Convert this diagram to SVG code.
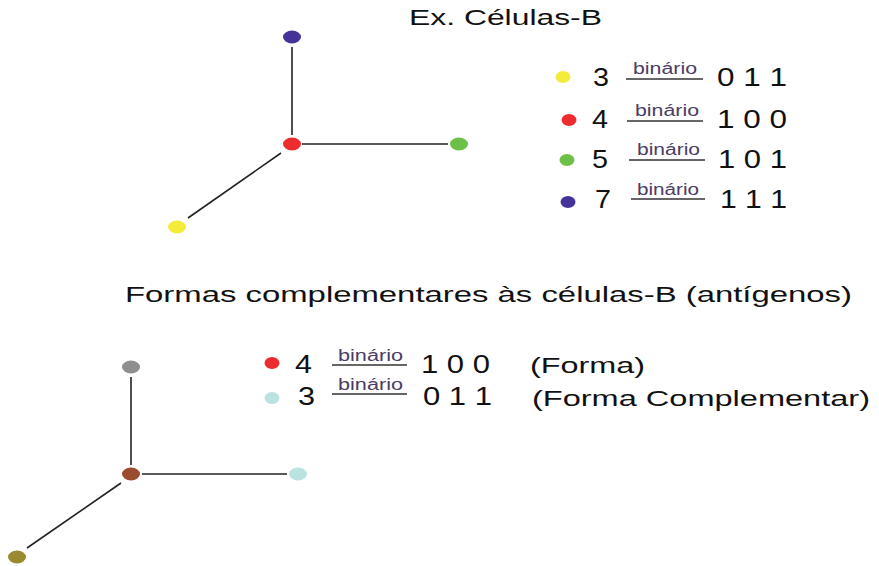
<svg xmlns="http://www.w3.org/2000/svg" width="879" height="566" viewBox="0 0 879 566">
<style>
.t{font-family:"Liberation Sans",Arial,sans-serif;fill:#111}
.h{font-size:22px}
.d{font-size:25px}
.b{font-size:16px;fill:#4a3d63}
.ln{stroke:#222;stroke-width:1.6;fill:none}
.bl{stroke:#333;stroke-width:1.3}
</style>
<rect width="879" height="566" fill="#fff"/>
<g id="connectors">
<line class="ln" x1="292" y1="47" x2="292" y2="135"/>
<line class="ln" x1="302" y1="144" x2="448" y2="144"/>
<line class="ln" x1="281" y1="153" x2="188" y2="218"/>
<line class="ln" x1="131" y1="377" x2="131" y2="465"/>
<line class="ln" x1="142" y1="474" x2="287" y2="474"/>
<line class="ln" x1="121" y1="483" x2="27" y2="548"/>
</g>
<g id="n-top-purple"><ellipse cx="292" cy="37" rx="9" ry="6.5" fill="#46339a"/></g>
<g id="n-top-red"><ellipse cx="292" cy="144" rx="9" ry="6.5" fill="#ee2b2f"/></g>
<g id="n-top-green"><ellipse cx="459" cy="144" rx="9" ry="6.5" fill="#6dbf47"/></g>
<g id="n-top-yellow"><ellipse cx="177" cy="227" rx="9" ry="6.5" fill="#f4ec3a"/></g>
<g id="n-bot-gray"><ellipse cx="131" cy="367" rx="9" ry="6.5" fill="#8f8f8f"/></g>
<g id="n-bot-brown"><ellipse cx="131" cy="474" rx="9" ry="6.5" fill="#9b4b30"/></g>
<g id="n-bot-cyan"><ellipse cx="298" cy="474" rx="9" ry="6.5" fill="#b9e2e0"/></g>
<g id="n-bot-olive"><ellipse cx="17" cy="557" rx="9" ry="6.5" fill="#9a8b30"/></g>

<g id="title-top">
<text class="t h" x="409" y="25" textLength="193" lengthAdjust="spacingAndGlyphs">Ex. Células-B</text>
</g>
<g id="legend-top">
<ellipse cx="563" cy="77" rx="7.5" ry="6" fill="#f4ec3a"/>
<text class="t d" x="593" y="86" textLength="16" lengthAdjust="spacingAndGlyphs">3</text>
<text class="t b" x="633" y="74" textLength="64" lengthAdjust="spacingAndGlyphs">binário</text>
<line class="bl" x1="626" y1="79" x2="703" y2="79"/>
<text class="t d" x="717" y="86" textLength="70" lengthAdjust="spacingAndGlyphs">0 1 1</text>

<ellipse cx="569" cy="120" rx="7.5" ry="6" fill="#ee2b2f"/>
<text class="t d" x="592" y="128" textLength="16" lengthAdjust="spacingAndGlyphs">4</text>
<text class="t b" x="635" y="116" textLength="64" lengthAdjust="spacingAndGlyphs">binário</text>
<line class="bl" x1="627" y1="121" x2="703" y2="121"/>
<text class="t d" x="717" y="128" textLength="70" lengthAdjust="spacingAndGlyphs">1 0 0</text>

<ellipse cx="567" cy="160" rx="7.5" ry="6" fill="#6dbf47"/>
<text class="t d" x="592" y="168" textLength="16" lengthAdjust="spacingAndGlyphs">5</text>
<text class="t b" x="637" y="155" textLength="63" lengthAdjust="spacingAndGlyphs">binário</text>
<line class="bl" x1="629" y1="160" x2="705" y2="160"/>
<text class="t d" x="718" y="168" textLength="69" lengthAdjust="spacingAndGlyphs">1 0 1</text>

<ellipse cx="568" cy="202" rx="7.5" ry="6" fill="#46339a"/>
<text class="t d" x="595" y="208" textLength="16" lengthAdjust="spacingAndGlyphs">7</text>
<text class="t b" x="637" y="195" textLength="62" lengthAdjust="spacingAndGlyphs">binário</text>
<line class="bl" x1="631" y1="199" x2="705" y2="199"/>
<text class="t d" x="720" y="208" textLength="67" lengthAdjust="spacingAndGlyphs">1 1 1</text>
</g>

<g id="title-bottom">
<text class="t h" x="125" y="302" textLength="727" lengthAdjust="spacingAndGlyphs">Formas complementares às células-B (antígenos)</text>
</g>
<g id="legend-bottom">
<ellipse cx="272" cy="363" rx="7.5" ry="6" fill="#ee2b2f"/>
<text class="t d" x="295" y="373" textLength="17" lengthAdjust="spacingAndGlyphs">4</text>
<text class="t b" x="338" y="361" textLength="65" lengthAdjust="spacingAndGlyphs">binário</text>
<line class="bl" x1="332" y1="365" x2="407" y2="365"/>
<text class="t d" x="421" y="373" textLength="69" lengthAdjust="spacingAndGlyphs">1 0 0</text>
<text class="t h" x="530" y="373" textLength="115" lengthAdjust="spacingAndGlyphs">(Forma)</text>

<ellipse cx="272" cy="398" rx="7.5" ry="6" fill="#b9e2e0"/>
<text class="t d" x="298" y="405" textLength="17" lengthAdjust="spacingAndGlyphs">3</text>
<text class="t b" x="338" y="390" textLength="65" lengthAdjust="spacingAndGlyphs">binário</text>
<line class="bl" x1="332" y1="394" x2="407" y2="394"/>
<text class="t d" x="423" y="405" textLength="69" lengthAdjust="spacingAndGlyphs">0 1 1</text>
<text class="t h" x="532" y="406" textLength="338" lengthAdjust="spacingAndGlyphs">(Forma Complementar)</text>
</g>
</svg>
